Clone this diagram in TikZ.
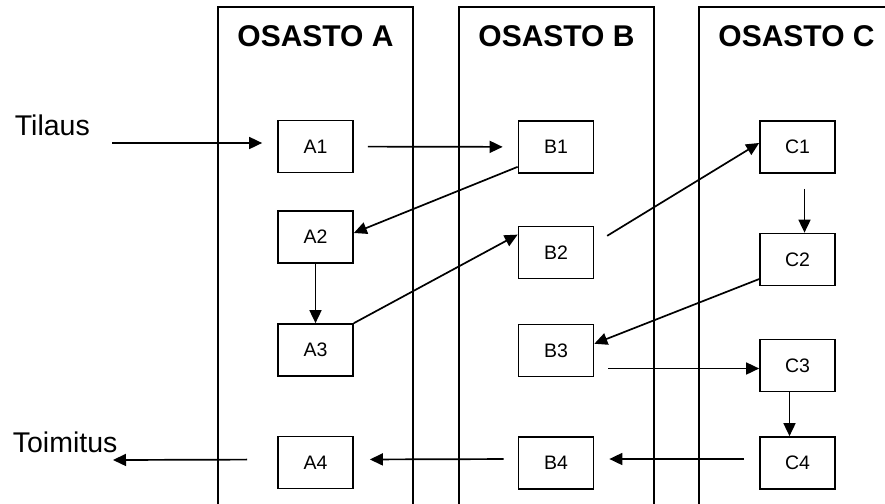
\documentclass[tikz,border=0pt]{standalone}
\usepackage{fontspec}
\setmainfont{Liberation Sans}
\usetikzlibrary{arrows.meta}

\begin{document}
\begin{tikzpicture}[x=1pt, y=-1pt, line width=1.7pt,
						>={Triangle[length=13pt, width=12pt]},
						box/.style={draw, rectangle, minimum width=75pt, minimum height=52pt, inner sep=0pt,
							font=\fontsize{19.5}{19.5}\selectfont},
						otsikko/.style={anchor=base, font=\fontsize{30}{30}\selectfont\bfseries},
						ulko/.style={anchor=base west, inner sep=0pt, font=\fontsize{28.5}{28.5}\selectfont}]
					\useasboundingbox (0,0) rectangle (885,503);

					\foreach \x in {218, 459, 699}
						\draw (\x,7) rectangle ++(195,530);

					\node[otsikko] (osA) at (315.5,47) {OSASTO A};
					\node[otsikko] (osB) at (556.5,47) {OSASTO B};
					\node[otsikko] (osC) at (796.5,47) {OSASTO C};

					\node[ulko] (tilaus) at (14,135) {Tilaus};
					\node[ulko] (toimitus) at (12,452) {Toimitus};
					\coordinate (tulo) at (112,143);
					\coordinate (lahto) at (113,460);

					\node[box] (A1) at (315.5,146.5) {A1};
					\node[box] (A2) at (315.5,237) {A2};
					\node[box] (A3) at (315.5,350) {A3};
					\node[box] (A4) at (315.5,462.5) {A4};
					\node[box] (B1) at (556,147) {B1};
					\node[box] (B2) at (556,252.5) {B2};
					\node[box] (B3) at (556,350.5) {B3};
					\node[box] (B4) at (556,463) {B4};
					\node[box] (C1) at (797.5,147) {C1};
					\node[box] (C2) at (797.5,259.5) {C2};
					\node[box] (C3) at (797.5,365.5) {C3};
					\node[box] (C4) at (797.5,463) {C4};

					\draw [->, shorten >=15pt] (tulo) -- (tulo -| A1.west);
					\draw [->, shorten <=14pt, shorten >=15pt] (A1) -- (B1);
					\draw [->] ([yshift=7pt]B1.south west) -- ([yshift=4pt]A2.east);
					\draw [->] (A2) -- (A3);
					\draw [->] (A3.north east) -- (B2.155);
					\draw [->, shorten <=15pt] (B2.13) -- (C1.174);
					\draw [->, shorten <=15pt] ([xshift=7pt]C1.south) -- ([xshift=7pt]C2.north);
					\draw [->] (C2.207) -- (B3.10);
					\draw [->, shorten <=14pt] ([yshift=-3pt]B3.east |- C3.west) -- ([yshift=-3pt]C3.west);
					\draw [->] ([xshift=-8pt]C3.south) -- ([xshift=-8pt]C4.north);
					\draw [->, shorten <=15pt, shorten >=15pt] ([yshift=4pt]C4.west) -- ([yshift=4pt]B4.east);
					\draw [->, shorten <=14pt, shorten >=16pt] ([yshift=4pt]B4.west) -- ([yshift=3pt]A4.east);
					\draw [->, shorten <=30pt] ([yshift=3pt]A4.west) -- (lahto);
				\end{tikzpicture}
\end{document}
